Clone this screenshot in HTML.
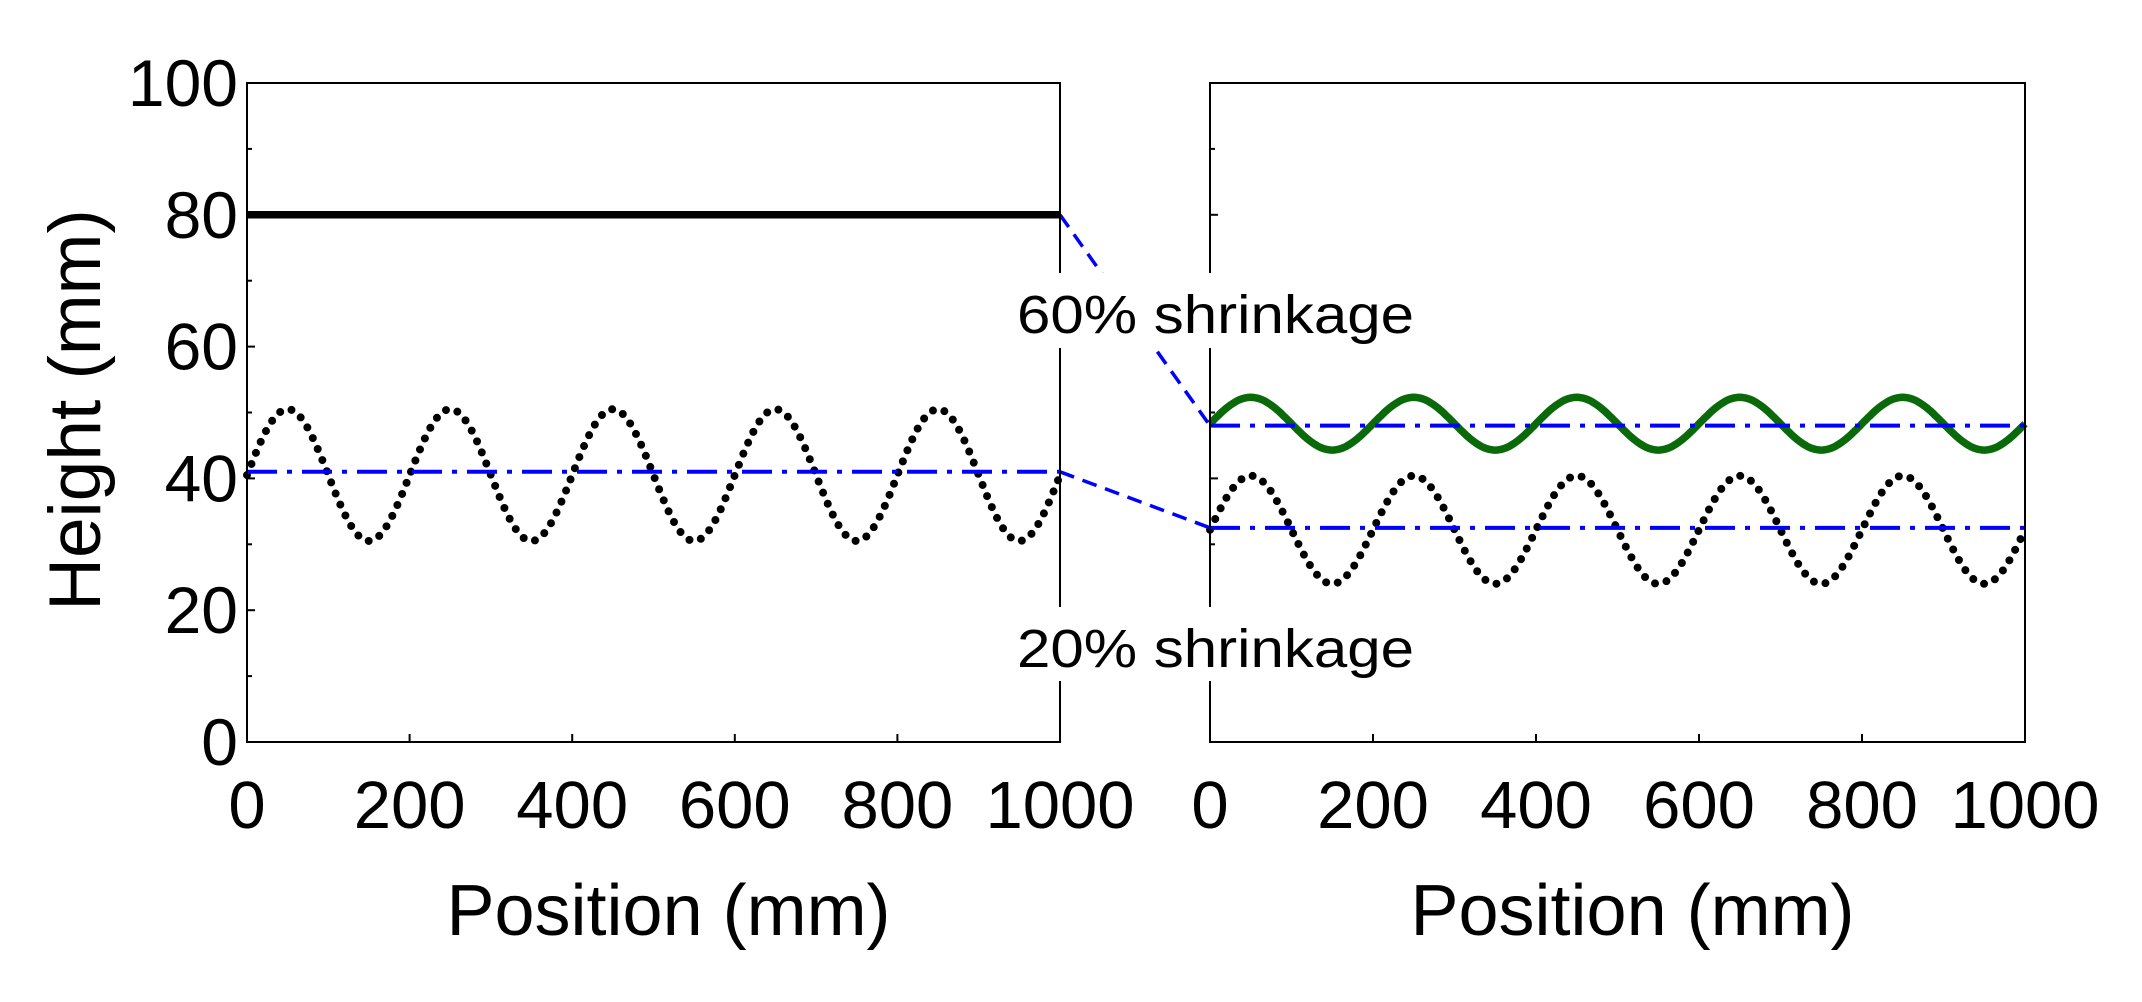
<!DOCTYPE html>
<html><head><meta charset="utf-8"><style>body{margin:0;background:#fff}svg{display:block}text{font-family:"Liberation Sans",sans-serif;fill:#000}</style></head>
<body>
<svg id="s" width="2142" height="1002" xmlns="http://www.w3.org/2000/svg">
<g id="g"></g>
</svg>
<script>
const NS="http://www.w3.org/2000/svg";const g=document.getElementById('g');
function el(t,a,txt){const e=document.createElementNS(NS,t);for(const k in a)e.setAttribute(k,a[k]);if(txt!==undefined)e.textContent=txt;g.appendChild(e);return e;}
const Y0=742,Y1=83;const yv=v=>Y0+(Y1-Y0)*v/100;
const panels=[{x0:247,x1:1060},{x0:1210,x1:2025}];
function xv(p,v){return p.x0+(p.x1-p.x0)*v/1000;}
function sine(p,c,a){let d='';for(let i=0;i<=400;i++){const v=i*2.5;d+=(i?'L':'M')+xv(p,v).toFixed(1)+','+yv(c+a*Math.sin(2*Math.PI*v/200)).toFixed(1);}return d;}
let L=panels[0],R=panels[1];
el('line',{x1:L.x0,y1:yv(80),x2:L.x1,y2:yv(80),stroke:'#000','stroke-width':7.5});
el('path',{d:sine(L,40.5,10),fill:'none',stroke:'#000','stroke-width':8,'stroke-linecap':'round','stroke-dasharray':'0 12'});
el('line',{x1:L.x0,y1:yv(41),x2:L.x1,y2:yv(41),stroke:'#00f','stroke-width':4,'stroke-dasharray':'30 10 5 10'});
el('path',{d:sine(R,48.3,4),fill:'none',stroke:'#0a6a0a','stroke-width':7.5});
el('line',{x1:R.x0,y1:yv(48),x2:R.x1,y2:yv(48),stroke:'#00f','stroke-width':4,'stroke-dasharray':'30 10 5 10'});
el('path',{d:sine(R,32.2,8.2),fill:'none',stroke:'#000','stroke-width':8,'stroke-linecap':'round','stroke-dasharray':'0 12'});
el('line',{x1:R.x0,y1:yv(32.5),x2:R.x1,y2:yv(32.5),stroke:'#00f','stroke-width':4,'stroke-dasharray':'30 10 5 10'});
el('line',{x1:L.x1,y1:yv(80),x2:R.x0,y2:yv(48),stroke:'#00f','stroke-width':3.5,'stroke-dasharray':'15 9'});
el('line',{x1:L.x1,y1:yv(41),x2:R.x0,y2:yv(32.5),stroke:'#00f','stroke-width':3.5,'stroke-dasharray':'15 9'});
for(const p of panels){
 el('rect',{x:p.x0,y:Y1,width:p.x1-p.x0,height:Y0-Y1,fill:'none',stroke:'#000','stroke-width':2});
 for(let v=10;v<100;v+=10){el('line',{x1:p.x0,y1:yv(v),x2:p.x0+(v%20?5:8),y2:yv(v),stroke:'#000','stroke-width':2});}
 for(let v=200;v<1000;v+=200){el('line',{x1:xv(p,v),y1:Y0,x2:xv(p,v),y2:Y0-8,stroke:'#000','stroke-width':2});}
 for(let v=0;v<=1000;v+=200){el('text',{x:xv(p,v),y:828,'font-size':67,'text-anchor':'middle'},String(v));}
 el('text',{x:(p.x0+p.x1)/2+15,y:935,'font-size':72,'text-anchor':'middle'},'Position (mm)');
}
for(let v=0;v<=100;v+=20){el('text',{x:238,y:yv(v)+23,'font-size':66,'text-anchor':'end'},String(v));}
el('text',{x:0,y:0,'font-size':73,'text-anchor':'middle',transform:'translate(100,410) rotate(-90)'},'Height (mm)');
el('rect',{x:1014,y:273,width:402,height:75,fill:'#fff'});
el('rect',{x:1014,y:607,width:402,height:74,fill:'#fff'});
el('text',{x:1017,y:333,'font-size':54,textLength:397,lengthAdjust:'spacingAndGlyphs'},'60% shrinkage');
el('text',{x:1017,y:667,'font-size':54,textLength:397,lengthAdjust:'spacingAndGlyphs'},'20% shrinkage');
</script>
</body></html>
